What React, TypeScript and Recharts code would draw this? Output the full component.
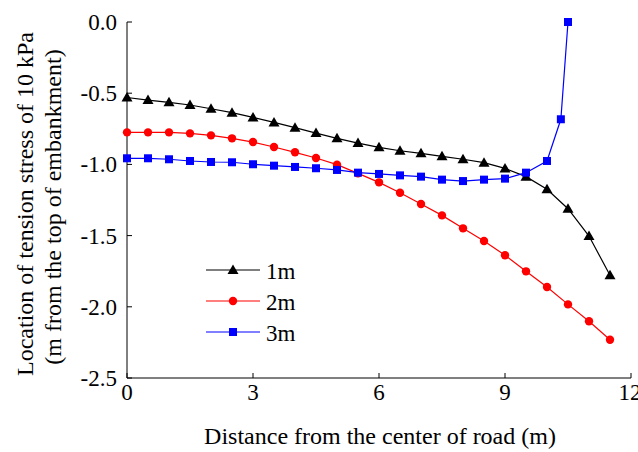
import React from 'react';
import { LineChart, Line, XAxis, YAxis } from 'recharts';

// distance from road center (m)
const dist1m = [0, 0.5, 1, 1.5, 2, 2.5, 3, 3.5, 4, 4.5, 5, 5.5, 6, 6.5, 7, 7.5, 8, 8.5, 9, 9.5, 10, 10.5, 11, 11.5];
const depth1m = [-0.53, -0.548, -0.564, -0.583, -0.609, -0.637, -0.67, -0.705, -0.742, -0.78, -0.817, -0.85, -0.88, -0.904, -0.922, -0.943, -0.964, -0.988, -1.028, -1.086, -1.175, -1.311, -1.503, -1.779];

const dist2m = [0, 0.5, 1, 1.5, 2, 2.5, 3, 3.5, 4, 4.5, 5, 5.5, 6, 6.5, 7, 7.5, 8, 8.5, 9, 9.5, 10, 10.5, 11, 11.5];
const depth2m = [-0.775, -0.775, -0.775, -0.782, -0.796, -0.817, -0.843, -0.878, -0.915, -0.955, -1.002, -1.063, -1.126, -1.199, -1.278, -1.358, -1.449, -1.538, -1.638, -1.751, -1.861, -1.983, -2.102, -2.231];

const dist3m = [0, 0.5, 1, 1.5, 2, 2.5, 3, 3.5, 4, 4.5, 5, 5.5, 6, 6.5, 7, 7.5, 8, 8.5, 9, 9.5, 10, 10.33, 10.5];
const depth3m = [-0.957, -0.957, -0.964, -0.976, -0.983, -0.985, -0.999, -1.009, -1.018, -1.027, -1.039, -1.058, -1.067, -1.077, -1.086, -1.107, -1.117, -1.107, -1.1, -1.058, -0.976, -0.683, 0.0];

const xTicks = [0, 3, 6, 9, 12];
const yTicks = [-2.5, -2.0, -1.5, -1.0, -0.5, 0.0];

const seriesNames = ['1m', '2m', '3m'];
const seriesColors = ['#000000', '#ff0000', '#0000ff'];

const toPoints = (xs: number[], ys: number[]) => xs.map((x, i) => ({ x, y: ys[i] }));

const data1 = toPoints(dist1m, depth1m);
const data2 = toPoints(dist2m, depth2m);
const data3 = toPoints(dist3m, depth3m);

const FONT = '"Liberation Serif", "Times New Roman", serif';
const txt = { fontFamily: FONT };

const Triangle = (props: any) => {
  const { cx, cy, fill } = props;
  if (cx == null || cy == null) return null;
  return <polygon key={`t-${cx}`} points={`${cx},${cy - 5.5} ${cx - 5.5},${cy + 4} ${cx + 5.5},${cy + 4}`} fill={fill} />;
};

const Circle = (props: any) => {
  const { cx, cy, fill } = props;
  if (cx == null || cy == null) return null;
  return <circle key={`c-${cx}`} cx={cx} cy={cy} r={4.2} fill={fill} />;
};

const Square = (props: any) => {
  const { cx, cy, fill } = props;
  if (cx == null || cy == null) return null;
  return <rect key={`s-${cx}`} x={cx - 4} y={cy - 4} width={8} height={8} fill={fill} />;
};

const markers = [Triangle, Circle, Square];

const XTick = (props: any) => {
  const { x, y, payload } = props;
  return (
    <text x={x} y={y + 17} textAnchor="middle" fontSize={23} fill="#000" style={txt}>
      {payload.value}
    </text>
  );
};

const YTick = (props: any) => {
  const { x, y, payload } = props;
  return (
    <text x={x} y={y + 8} textAnchor="end" fontSize={23} fill="#000" style={txt}>
      {Number(payload.value).toFixed(1)}
    </text>
  );
};

const LegendBox = () => (
  <svg width={120} height={100} style={{ position: 'absolute', left: 200, top: 258 }}>
    {seriesNames.map((name, i) => {
      const cy = 12 + i * 31;
      const M = markers[i];
      return (
        <g key={name}>
          <line x1={6} x2={60} y1={cy} y2={cy} stroke={seriesColors[i]} strokeWidth={1.2} />
          <M cx={33} cy={cy} fill={seriesColors[i]} />
          <text x={66} y={cy + 9} fontSize={23} fill="#000" style={txt}>{name}</text>
        </g>
      );
    })}
  </svg>
);

const YLabel = () => (
  <g fontSize={24} fill="#000">
    <text transform="translate(33,204) rotate(-90)" textAnchor="middle" style={txt}>
      Location of tension stress of 10 kPa
    </text>
    <text transform="translate(61,207) rotate(-90)" textAnchor="middle" style={txt}>
      (m from the top of embankment)
    </text>
  </g>
);

const XLabel = () => (
  <text x={380} y={444} textAnchor="middle" fontSize={24} fill="#000" style={txt}>
    Distance from the center of road (m)
  </text>
);

export default function App() {
  return (
    <div style={{ position: 'absolute', left: 0, top: 0, width: 638, height: 452, background: '#fff', fontFamily: FONT }}>
      <LineChart width={638} height={452} margin={{ top: 22, right: 7, left: 0, bottom: 0 }}>
        <XAxis
          type="number"
          dataKey="x"
          domain={[0, 12]}
          ticks={xTicks}
          allowDuplicatedCategory={false}
          height={74}
          stroke="#000"
          tickSize={-5}
          tickMargin={10}
          tick={<XTick />}
          label={<XLabel />}
        />
        <YAxis
          type="number"
          domain={[-2.5, 0]}
          ticks={yTicks}
          width={127}
          stroke="#000"
          tickSize={-5}
          tickMargin={15}
          tick={<YTick />}
          label={<YLabel />}
        />
        <Line data={data1} dataKey="y" name={seriesNames[0]} stroke={seriesColors[0]} fill={seriesColors[0]} strokeWidth={1.2} dot={<Triangle />} isAnimationActive={false} />
        <Line data={data2} dataKey="y" name={seriesNames[1]} stroke={seriesColors[1]} fill={seriesColors[1]} strokeWidth={1.2} dot={<Circle />} isAnimationActive={false} />
        <Line data={data3} dataKey="y" name={seriesNames[2]} stroke={seriesColors[2]} fill={seriesColors[2]} strokeWidth={1.2} dot={<Square />} isAnimationActive={false} />
      </LineChart>
      <LegendBox />
    </div>
  );
}
